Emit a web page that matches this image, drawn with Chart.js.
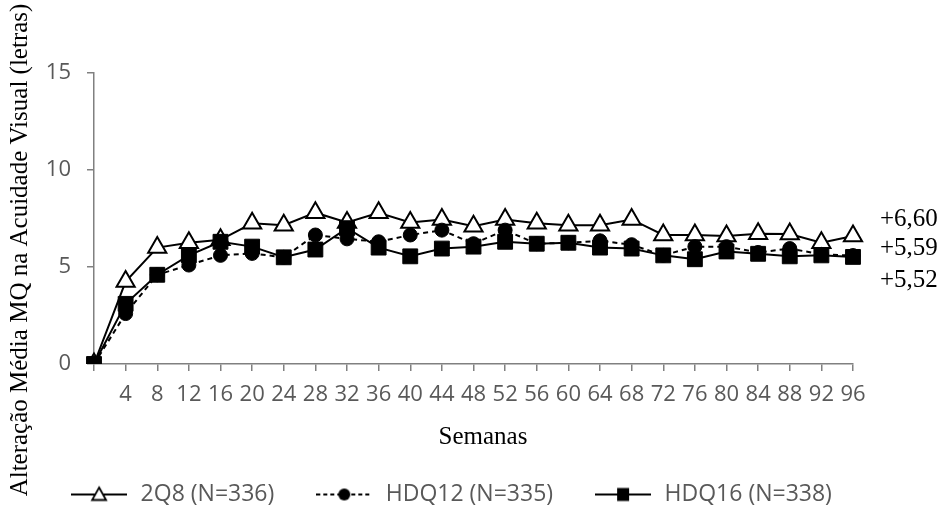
<!DOCTYPE html>
<html><head><meta charset="utf-8">
<script src="https://cdn.jsdelivr.net/npm/chart.js@4/dist/chart.umd.min.js"></script>
<style>html,body{margin:0;padding:0;background:#fff}#wrap{width:940px;height:508px}</style>
</head><body><div id="wrap"><canvas id="c" width="940" height="508"></canvas></div>
<script>
// ---- data ----
const weekLabels = ['', '4', '8', '12', '16', '20', '24', '28', '32', '36', '40', '44', '48', '52', '56', '60', '64', '68', '72', '76', '80', '84', '88', '92', '96'];
const series2Q8   = [0, 4.25, 6.0, 6.25, 6.4, 7.25, 7.15, 7.8, 7.3, 7.8, 7.3, 7.45, 7.1, 7.45, 7.25, 7.15, 7.15, 7.45, 6.65, 6.65, 6.6, 6.72, 6.7, 6.25, 6.60];
const seriesHDQ12 = [0, 2.6, 4.6, 5.1, 5.6, 5.7, 5.5, 6.65, 6.45, 6.3, 6.65, 6.9, 6.2, 6.9, 6.2, 6.25, 6.35, 6.15, 5.6, 6.05, 6.05, 5.75, 5.95, 5.65, 5.59];
const seriesHDQ16 = [0, 3.1, 4.6, 5.6, 6.3, 6.05, 5.5, 5.9, 7.0, 6.0, 5.55, 5.95, 6.05, 6.3, 6.2, 6.25, 6.0, 5.95, 5.6, 5.4, 5.8, 5.68, 5.55, 5.6, 5.52];
const seriesNames = ['2Q8 (N=336)', 'HDQ12 (N=335)', 'HDQ16 (N=338)'];
const finalLabels = ['+6,60', '+5,59', '+5,52'];
const yTicks = [0, 5, 10, 15];
const yTitle = 'Alteração Média MQ na Acuidade Visual (letras)';
const xTitle = 'Semanas';

// ---- styling ----
const AXIS = '#808080';
const TICK_TXT = '#595959';
const SERIF = "'Liberation Serif', 'Times New Roman', serif";
const SANS = "'Open Sans', 'Liberation Sans', sans-serif";

function legendImg(kind) {
  const c = document.createElement('canvas');
  c.width = 56; c.height = 20;
  const g = c.getContext('2d');
  g.strokeStyle = '#000'; g.lineWidth = 2;
  if (kind === 'circle') g.setLineDash([4, 3]);
  g.beginPath(); g.moveTo(0, 10); g.lineTo(56, 10); g.stroke();
  g.setLineDash([]);
  const cx = 28, cy = 10;
  if (kind === 'triangle') {
    g.beginPath(); g.moveTo(cx, cy - 7); g.lineTo(cx + 7, cy + 5.5); g.lineTo(cx - 7, cy + 5.5); g.closePath();
    g.fillStyle = '#fff'; g.fill(); g.lineWidth = 1.8; g.stroke();
  } else if (kind === 'circle') {
    g.beginPath(); g.arc(cx, cy, 6, 0, Math.PI * 2); g.fillStyle = '#000'; g.fill();
  } else {
    g.fillStyle = '#000'; g.fillRect(cx - 6, cy - 6.5, 12, 13);
  }
  return c;
}
const legendStyles = ['triangle', 'circle', 'rect'].map(legendImg);

const legendShift = {
  id: 'legendShift',
  afterLayout(chart) {
    if (chart.legend) { chart.legend.left += 24; chart.legend.right += 24; }
  }
};

const textPlugin = {
  id: 'texts',
  afterDraw(chart) {
    const ctx = chart.ctx;
    const a = chart.chartArea;
    ctx.save();
    ctx.fillStyle = '#000';
    ctx.font = '25px ' + SERIF;
    ctx.textAlign = 'center';
    ctx.textBaseline = 'middle';
    // y title
    ctx.save();
    ctx.translate(20, 250);
    ctx.rotate(-Math.PI / 2);
    ctx.fillText(yTitle, 0, 0);
    ctx.restore();
    // x title
    ctx.fillText(xTitle, 483, 437);
    // end labels
    ctx.textAlign = 'left';
    const ys = [a.top + 146, a.top + 175, a.top + 207];
    finalLabels.forEach((t, i) => ctx.fillText(t, a.right + 27, ys[i]));
    ctx.restore();
  }
};

const ctx = document.getElementById('c').getContext('2d');
new Chart(ctx, {
  type: 'line',
  data: {
    labels: weekLabels,
    datasets: [
      { label: seriesNames[0], data: series2Q8, borderColor: '#000', borderWidth: 2,
        pointStyle: 'triangle', pointRadius: 10.5, pointBackgroundColor: '#fff', pointBorderColor: '#000', pointBorderWidth: 2, order: 3 },
      { label: seriesNames[1], data: seriesHDQ12, borderColor: '#000', borderWidth: 2, borderDash: [5, 4],
        pointStyle: 'circle', pointRadius: 7, pointBackgroundColor: '#000', pointBorderColor: '#000', pointBorderWidth: 1, order: 2 },
      { label: seriesNames[2], data: seriesHDQ16, borderColor: '#000', borderWidth: 2,
        pointStyle: 'rect', pointRadius: 10.5, pointBackgroundColor: '#000', pointBorderColor: '#000', pointBorderWidth: 1, order: 1 }
    ]
  },
  options: {
    responsive: false,
    animation: false,
    events: [],
    layout: { padding: { left: 0, right: 87, top: 73, bottom: -8 } },
    plugins: {
      tooltip: { enabled: false },
      legend: {
        position: 'bottom',
        labels: {
          usePointStyle: true,
          pointStyleWidth: 60,
          padding: 40,
          color: TICK_TXT,
          font: { family: SANS, size: 23 },
          generateLabels(chart) {
            return chart.data.datasets.map((ds, i) => ({
              text: ds.label, pointStyle: legendStyles[i], datasetIndex: i,
              fillStyle: '#000', strokeStyle: '#000', lineWidth: 0, hidden: false, fontColor: TICK_TXT
            }));
          }
        }
      }
    },
    scales: {
      x: {
        type: 'category',
        offset: false,
        grid: { display: true, drawOnChartArea: false, drawTicks: true, tickLength: 7, color: AXIS, lineWidth: 1.5 },
        border: { display: true, color: AXIS, width: 1.5 },
        ticks: { autoSkip: false, maxRotation: 0, minRotation: 0, padding: 11, color: TICK_TXT, font: { family: SANS, size: 22 } },
        afterFit(scale) {
          const lh = scale.chart.legend ? scale.chart.legend.height : 80;
          scale.height = 508 + 8 - lh - 364;
        }
      },
      y: {
        min: 0, max: 15,
        afterBuildTicks(scale) { scale.ticks = yTicks.map(v => ({ value: v })); },
        grid: { display: true, drawOnChartArea: false, drawTicks: true, tickLength: 7, color: AXIS, lineWidth: 1.5 },
        border: { display: true, color: AXIS, width: 1.5 },
        ticks: { padding: 16, color: TICK_TXT, font: { family: SANS, size: 22 } },
        afterFit(scale) { scale.width = 94; }
      }
    }
  },
  plugins: [legendShift, textPlugin]
});
</script>
</body></html>
